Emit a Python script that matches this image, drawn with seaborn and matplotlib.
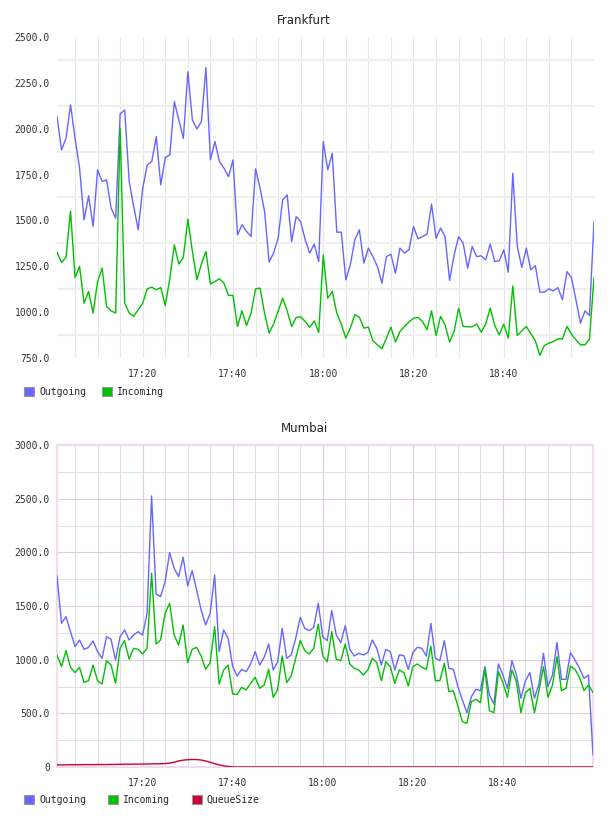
import pandas as pd
import seaborn as sns
import matplotlib
matplotlib.use("Agg")
import matplotlib.pyplot as plt
import matplotlib.dates as mdates
from matplotlib.patches import Patch
from matplotlib.ticker import FixedLocator, FuncFormatter

# one sample per minute, 17:01 .. 19:00
times = pd.date_range("2024-01-01 17:01", periods=120, freq="min")

frankfurt_outgoing = [
    2066, 1884, 1948, 2130, 1948, 1785, 1503, 1634, 1467, 1776, 1712, 1721, 1567, 1512, 2081,
    2102, 1712, 1576, 1449, 1676, 1803, 1821, 1957, 1694, 1843, 1857, 2148, 2048, 1948, 2311,
    2048, 1999, 2039, 2333, 1830, 1930, 1821, 1785, 1739, 1830, 1421, 1476, 1440, 1412, 1781,
    1676, 1549, 1273, 1322, 1403, 1612, 1639, 1385, 1521, 1494, 1394, 1322, 1371, 1276, 1930,
    1776, 1866, 1436, 1436, 1176, 1258, 1394, 1449, 1267, 1349, 1303, 1249, 1158, 1303, 1316,
    1212, 1349, 1322, 1340, 1467, 1400, 1412, 1425, 1589, 1403, 1458, 1412, 1173, 1312, 1412,
    1376, 1240, 1358, 1303, 1307, 1285, 1371, 1276, 1280, 1340, 1218, 1757, 1358, 1244, 1349,
    1231, 1254, 1109, 1109, 1127, 1116, 1134, 1067, 1221, 1189, 1067, 940, 1007, 982, 1494,
]
frankfurt_incoming = [
    1327, 1271, 1298, 1552, 1189, 1249, 1049, 1113, 995, 1167, 1240, 1031, 1007, 995, 2003,
    1049, 995, 977, 1013, 1049, 1127, 1136, 1122, 1134, 1036, 1185, 1367, 1262, 1298, 1507,
    1331, 1176, 1262, 1331, 1153, 1167, 1182, 1158, 1091, 1091, 922, 1007, 927, 995, 1127,
    1131, 995, 886, 935, 1004, 1076, 1007, 922, 971, 975, 949, 917, 953, 889, 1312,
    1076, 1113, 995, 935, 858, 913, 986, 973, 913, 918, 844, 822, 800, 858, 918,
    837, 895, 922, 946, 967, 971, 949, 904, 1007, 873, 977, 931, 837, 895, 1022,
    922, 920, 920, 935, 891, 935, 1022, 927, 876, 935, 858, 1143, 873, 898, 922,
    882, 844, 764, 818, 831, 840, 855, 853, 922, 880, 849, 822, 822, 853, 1189,
]
mumbai_outgoing = [
    1780, 1339, 1401, 1261, 1121, 1183, 1096, 1115, 1174, 1075, 1013, 1214, 1190, 997, 1214,
    1277, 1183, 1230, 1261, 1230, 1432, 2525, 1612, 1587, 1727, 1997, 1851, 1774, 1954, 1687,
    1829, 1649, 1463, 1323, 1432, 1789, 1075, 1277, 1199, 935, 848, 910, 888, 960, 1075,
    950, 1022, 1146, 904, 981, 1292, 1013, 1044, 1199, 1395, 1292, 1270, 1301, 1525, 1214,
    1177, 1457, 1230, 1159, 1317, 1096, 1034, 1059, 1044, 1065, 1183, 1106, 950, 1096, 1075,
    904, 1044, 1037, 910, 1065, 1115, 1106, 1034, 1339, 1013, 991, 1177, 919, 910, 749,
    624, 506, 655, 724, 711, 935, 671, 587, 960, 857, 733, 991, 857, 640, 804,
    879, 640, 773, 1059, 749, 857, 1159, 817, 817, 1065, 997, 919, 826, 857, 112,
]
mumbai_incoming = [
    1044, 935, 1084, 929, 879, 929, 789, 804, 950, 804, 773, 991, 950, 780, 1106,
    1177, 1006, 1106, 1096, 1053, 1106, 1805, 1146, 1183, 1432, 1525, 1230, 1137, 1323, 972,
    1096, 1115, 1034, 910, 972, 1308, 773, 904, 950, 680, 677, 742, 717, 780, 836,
    733, 764, 910, 649, 724, 1034, 786, 848, 1013, 1177, 1084, 1053, 1106, 1332, 1034,
    981, 1261, 1003, 991, 1146, 960, 919, 904, 857, 904, 1013, 972, 804, 981, 935,
    780, 904, 879, 755, 935, 960, 929, 910, 1127, 804, 804, 966, 702, 711, 568,
    422, 407, 609, 631, 600, 919, 525, 506, 888, 786, 649, 904, 795, 506, 693,
    733, 506, 711, 935, 649, 764, 1028, 711, 733, 941, 910, 836, 711, 764, 693,
]
mumbai_queue = [
    20, 20, 20, 21, 21, 21, 22, 22, 22, 23, 23, 23, 24, 24, 25,
    26, 26, 27, 27, 28, 28, 29, 30, 30, 32, 36, 45, 56, 64, 68,
    70, 69, 65, 56, 44, 31, 20, 11, 5, 1, 0, 0, 0, 0, 0,
    0, 0, 0, 0, 0, 0, 0, 0, 0, 0, 0, 0, 0, 0, 0,
    0, 0, 0, 0, 0, 0, 0, 0, 0, 0, 0, 0, 0, 0, 0,
    0, 0, 0, 0, 0, 0, 0, 0, 0, 0, 0, 0, 0, 0, 0,
    0, 0, 0, 0, 0, 0, 0, 0, 0, 0, 0, 0, 0, 0, 0,
    0, 0, 0, 0, 0, 0, 0, 0, 0, 0, 0, 0, 0, 0, 0,
]

series_names = ["Outgoing", "Incoming", "QueueSize"]
colors = {"Outgoing": "#6666ff", "Incoming": "#00c000", "QueueSize": "#cc0033"}
xtick_labels = ["17:20", "17:40", "18:00", "18:20", "18:40"]
fra_yticks = [750, 1000, 1250, 1500, 1750, 2000, 2250, 2500]
mum_yticks = [0, 500, 1000, 1500, 2000, 2500, 3000]


def to_long(columns):
    parts = []
    for name, vals in columns.items():
        parts.append(pd.DataFrame({"time": times, "value": vals, "series": name}))
    return pd.concat(parts, ignore_index=True)


fra = to_long({"Outgoing": frankfurt_outgoing, "Incoming": frankfurt_incoming})
mum = to_long({"Outgoing": mumbai_outgoing, "Incoming": mumbai_incoming,
               "QueueSize": mumbai_queue})

sns.set_style("white")
plt.rcParams["font.family"] = ["DejaVu Sans Mono"]

W, H = 608, 816
fig = plt.figure(figsize=(W / 100, H / 100), dpi=100)
ax1 = fig.add_axes([57 / W, 1 - 358 / H, 537 / W, 321 / H])
ax2 = fig.add_axes([57 / W, 1 - 767 / H, 536 / W, 322 / H])

sns.lineplot(data=fra, x="time", y="value", hue="series", palette=colors,
             estimator=None, legend=False, linewidth=1.0, zorder=3, ax=ax1)
sns.lineplot(data=mum, x="time", y="value", hue="series", palette=colors,
             estimator=None, legend=False, linewidth=1.0, zorder=3, ax=ax2)

major_x = pd.to_datetime(["2024-01-01 " + s for s in xtick_labels])
minor_x = pd.date_range("2024-01-01 17:05", "2024-01-01 18:55", freq="5min")

for ax in (ax1, ax2):
    ax.set_xlim(times[0], times[-1])
    ax.xaxis.set_major_locator(FixedLocator(mdates.date2num(major_x)))
    ax.xaxis.set_minor_locator(FixedLocator(mdates.date2num(minor_x)))
    ax.xaxis.set_major_formatter(mdates.DateFormatter("%H:%M"))
    ax.set_xlabel("")
    ax.set_ylabel("")
    ax.tick_params(which="both", length=0, labelsize=7, colors="#333333")
    ax.tick_params(axis="x", pad=8)
    ax.tick_params(axis="y", pad=5)
    ax.set_axisbelow(True)

# Frankfurt: grid lines sit halfway between the labels
ax1.set_ylim(750, 2500)
ax1.set_yticks(fra_yticks)
ax1.yaxis.set_major_formatter(FuncFormatter(lambda v, p: f"{v:.1f}"))
ax1.yaxis.set_minor_locator(FixedLocator([v + 125 for v in fra_yticks[:-1]]))
ax1.grid(True, which="minor", axis="y", color="#efefef", linewidth=1.6)
ax1.grid(True, which="both", axis="x", color="#e6e6e6", linewidth=0.8)
for s in ax1.spines.values():
    s.set_visible(False)

# Mumbai
ax2.set_ylim(0, 3000)
ax2.set_yticks(mum_yticks)
ax2.yaxis.set_major_formatter(FuncFormatter(lambda v, p: "0" if v == 0 else f"{v:.1f}"))
ax2.yaxis.set_minor_locator(FixedLocator([v + 250 for v in mum_yticks[:-1]]))
ax2.grid(True, which="major", color="#e3c9e3", linewidth=0.8)
ax2.grid(True, which="minor", color="#dedede", linewidth=0.7)
for s in ax2.spines.values():
    s.set_color("#eedcee")
    s.set_linewidth(1.5)
    s.set_zorder(2)

fig.text(0.5, 1 - 20 / H, "Frankfurt", ha="center", va="center",
         fontsize=8.5, family="DejaVu Sans", color="#222222")
fig.text(0.5, 1 - 428 / H, "Mumbai", ha="center", va="center",
         fontsize=8.5, family="DejaVu Sans", color="#222222")


def add_legend(names, y_px, spacing):
    handles = [Patch(facecolor=colors[n], edgecolor="#999999", linewidth=0.8) for n in names]
    fig.legend(handles, names, loc="center left", bbox_to_anchor=(24 / W, 1 - y_px / H),
               ncol=len(names), frameon=False, fontsize=7, handlelength=1.05,
               handleheight=1.05, handletextpad=0.5, columnspacing=spacing,
               borderpad=0, borderaxespad=0)


add_legend(series_names[:2], 392, 1.65)
add_legend(series_names, 800, 2.25)

plt.savefig("out.png", dpi=100)
